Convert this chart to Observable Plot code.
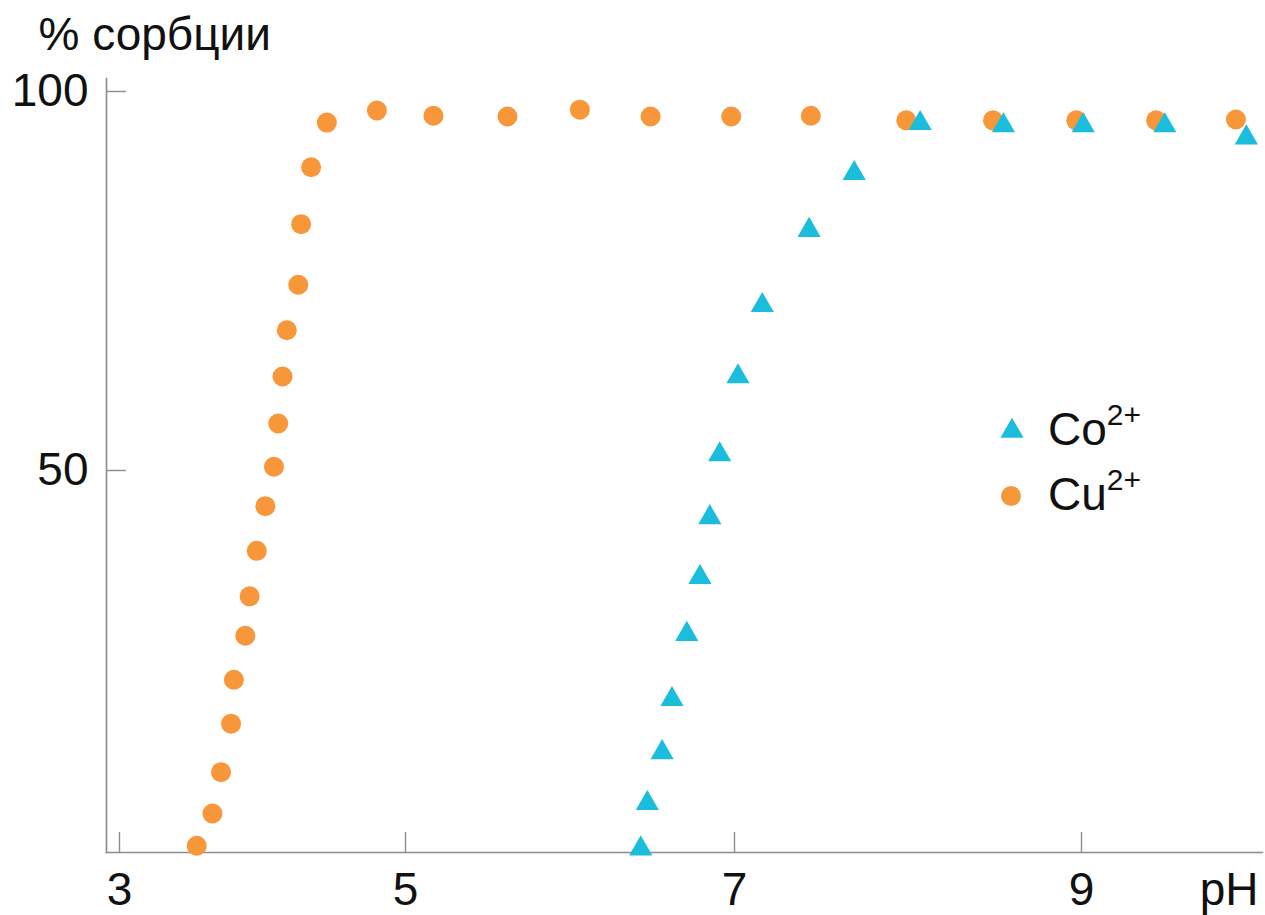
<!DOCTYPE html>
<html><head><meta charset="utf-8">
<script src="https://cdn.jsdelivr.net/npm/d3@7"></script>
<script src="https://cdn.jsdelivr.net/npm/@observablehq/plot@0.6"></script>
<style>
body{margin:0;background:#fff;}
#chart{position:relative;width:1265px;height:915px;}
</style></head><body><div id="chart"></div>
<script>
// Cu2+ (orange circles)
const cuPH = [3.54, 3.65, 3.71, 3.78, 3.80, 3.88, 3.91, 3.96, 4.02, 4.08, 4.11, 4.14, 4.17, 4.25, 4.27, 4.34, 4.45, 4.80, 5.17, 5.62, 6.06, 6.49, 6.98, 7.44, 7.99, 8.49, 8.97, 9.43, 9.89];
const cuSorption = [0.5, 4.75, 10.2, 16.6, 22.4, 28.2, 33.4, 39.4, 45.3, 50.5, 56.2, 62.4, 68.5, 74.5, 82.5, 90.0, 95.9, 97.5, 96.8, 96.7, 97.6, 96.7, 96.7, 96.8, 96.2, 96.2, 96.2, 96.2, 96.3];
// Co2+ (cyan triangles)
const coPH = [6.43, 6.47, 6.56, 6.62, 6.71, 6.79, 6.85, 6.91, 7.02, 7.16, 7.43, 7.69, 8.07, 8.55, 9.01, 9.48, 9.95];
const coSorption = [0.1, 6.1, 12.8, 19.8, 28.4, 35.9, 43.8, 52.1, 62.4, 71.8, 81.7, 89.2, 95.8, 95.5, 95.5, 95.5, 93.9];

const xTicks = [3, 5, 7, 9];
const yTicks = [50, 100];
const xLabel = "pH";
const yLabel = "% сорбции";
const seriesNames = ["Co", "Cu"];
const charge = "2+";

const cu = cuPH.map((x, i) => ({x, y: cuSorption[i]}));
const co = coPH.map((x, i) => ({x, y: coSorption[i]}));

const FONT = "'Liberation Sans', Arial, Helvetica, sans-serif";
const AXIS = "#8c8c8c";
const ORANGE = "#f8963a";
const CYAN = "#1abddc";
const CU_R = 10, CO_R = 8.6;

const plot = Plot.plot({
  width: 1265, height: 915,
  marginLeft: 106, marginRight: 3, marginTop: 78, marginBottom: 63,
  style: {fontFamily: FONT, fontSize: "46px", background: "#fff", color: "#111", overflow: "visible"},
  x: {type: "linear", domain: xTicks, range: [119, 405, 734, 1081]},
  y: {type: "linear", domain: [0, 100], range: [849, 91]},
  marks: [
    Plot.frame({anchor: "left", stroke: AXIS, strokeWidth: 1.6}),
    Plot.frame({anchor: "bottom", stroke: AXIS, strokeWidth: 1.6}),
    Plot.axisX(xTicks, {tickSize: -20, stroke: AXIS, strokeWidth: 1.4, tickFormat: () => "", label: null}),
    Plot.axisX(xTicks, {tickSize: 0, tickPadding: 20, tickFormat: d => String(d), label: null, fill: "#111"}),
    Plot.axisY(yTicks, {tickSize: -20, stroke: AXIS, strokeWidth: 1.4, tickFormat: () => "", label: null}),
    Plot.axisY(yTicks, {tickSize: 0, tickPadding: 18, tickFormat: d => String(d), label: null, fill: "#111"}),
    Plot.text([yLabel], {frameAnchor: "top-left", text: d => d, textAnchor: "start", lineAnchor: "middle", dx: -68, dy: -43, fill: "#111"}),
    Plot.text([xLabel], {frameAnchor: "bottom-right", text: d => d, textAnchor: "end", lineAnchor: "middle", dx: -4, dy: 38, fill: "#111"}),
    Plot.dot(cu, {x: "x", y: "y", r: CU_R, fill: ORANGE, symbol: "circle"}),
    Plot.dot(co, {x: "x", y: "y", r: CO_R, fill: CYAN, symbol: "triangle"})
  ]
});
document.getElementById("chart").appendChild(plot);

// legend
const svg = d3.select(plot);
const legendItems = [
  {name: seriesNames[0], symbol: d3.symbolTriangle, size: Math.PI * CO_R * CO_R, color: CYAN, sx: 1012, sy: 431, ty: 445},
  {name: seriesNames[1], symbol: d3.symbolCircle, size: Math.PI * CU_R * CU_R, color: ORANGE, sx: 1011, sy: 496, ty: 510}
];
const lg = svg.append("g").attr("font-family", FONT).attr("fill", "#111").attr("text-anchor", "start");
for (const it of legendItems) {
  lg.append("path")
    .attr("transform", `translate(${it.sx},${it.sy})`)
    .attr("d", d3.symbol(it.symbol, it.size)())
    .attr("fill", it.color);
  const t = lg.append("text").attr("x", 1048).attr("y", it.ty).attr("font-size", 46).attr("text-anchor", "start").text(it.name);
  t.append("tspan").attr("font-size", 30).attr("dy", -20).text(charge);
}
</script></body></html>
